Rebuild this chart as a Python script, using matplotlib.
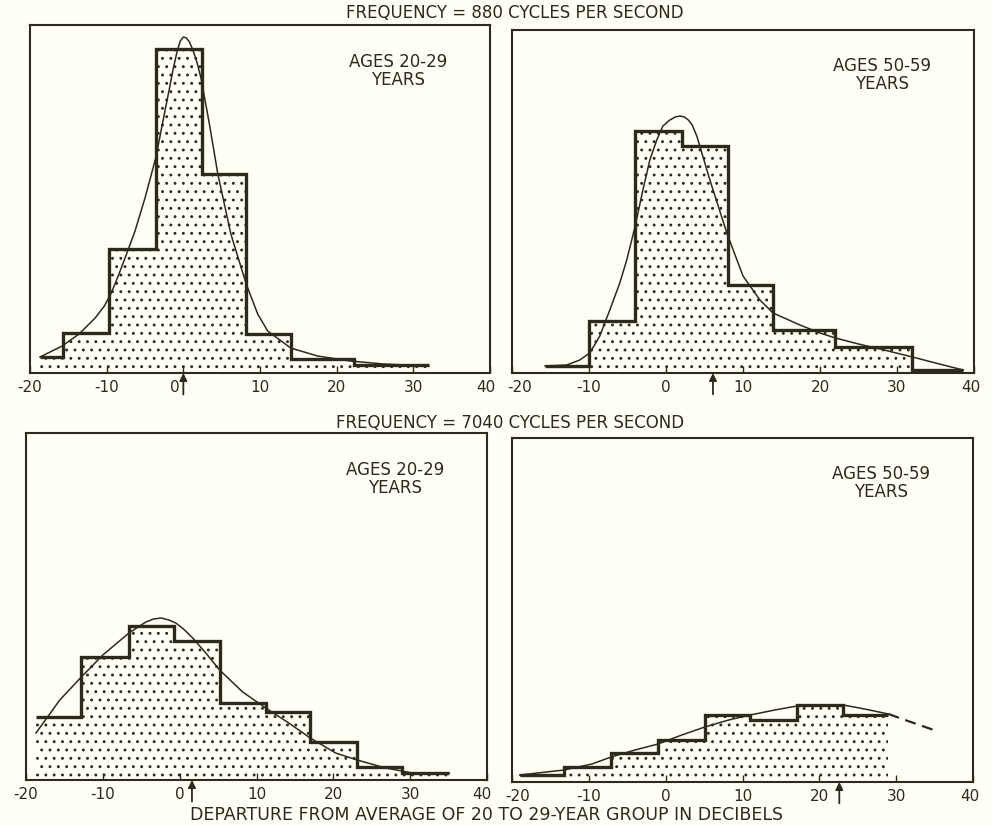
import numpy as np
import matplotlib.pyplot as plt
from matplotlib.transforms import ScaledTranslation

ink = '#2b2a1c'
paper = '#fffff6'
plt.rcParams['font.family'] = ['DejaVu Sans']
plt.rcParams['hatch.color'] = ink
plt.rcParams['hatch.linewidth'] = 0.9

# 880 c/s, ages 20-29
edges_880_young = [-18.7, -15.7, -9.7, -3.6, 2.5, 8.2, 14.0, 22.2, 32.0]
counts_880_young = [16, 40, 124, 324, 199, 39, 14, 8]
curve_880_young_x = [-18.7, -15.8, -13.6, -11.5, -10.3, -9.4, -8.5, -7.6, -6.3, -5.0, -3.6, -2.4,
                     -1.8, -1.3, -0.8, -0.4, 0.0, 0.4, 0.8, 1.3, 1.8, 2.3, 3.4, 4.5, 6.2, 8.2,
                     9.7, 11.0, 14.0, 17.5, 21.8, 26.1, 32.0]
curve_880_young_y = [16, 27, 39, 55, 67, 80, 97, 115, 142, 175, 215, 262,
                     285, 305, 322, 332, 336, 335, 331, 322, 310, 295, 249, 199, 139, 89,
                     59, 42, 25, 17, 12, 9, 7]
mean_880_young = 0.0

# 880 c/s, ages 50-59
edges_880_old = [-15.7, -10.0, -4.0, 2.1, 8.0, 13.9, 22.0, 32.0, 38.6]
counts_880_old = [7, 52, 242, 227, 88, 43, 26, 3]
curve_880_old_x = [-15.7, -12.9, -11.2, -9.9, -8.6, -7.3, -6.0, -5.1, -4.0, -3.0, -2.1, -1.2,
                   -0.4, 0.5, 1.2, 1.8, 2.4, 2.9, 3.4, 4.0, 5.7, 7.9, 10.0, 12.2, 13.9, 17.4,
                   20.0, 22.0, 25.0, 27.8, 32.0, 35.5, 38.6]
curve_880_old_y = [7, 8, 13, 20, 37, 63, 90, 113, 147, 183, 213, 233,
                   247, 253, 256, 257, 256, 253, 248, 237, 193, 140, 97, 73, 60, 48,
                   40, 35, 29, 24, 16, 9, 3]
mean_880_old = 6.1

# 7040 c/s, ages 20-29
edges_7040_young = [-18.7, -12.8, -6.6, -0.7, 5.2, 11.2, 17.0, 23.1, 29.0, 35.1]
counts_7040_young = [63, 123, 154, 139, 77, 68, 38, 13, 7]
curve_7040_young_x = [-18.7, -15.6, -12.8, -10.0, -6.6, -5.4, -4.4, -3.4, -2.4, -1.4, -0.5,
                      0.5, 1.7, 3.4, 5.2, 8.2, 11.2, 14.2, 17.0, 20.3, 23.1, 26.8, 30.3, 35.1]
curve_7040_young_y = [47, 80, 103, 125, 147, 153, 158, 161, 162, 160, 157,
                      151, 142, 127, 110, 88, 72, 57, 42, 27, 20, 12, 7, 7]
mean_7040_young = 1.6

# 7040 c/s, ages 50-59
edges_7040_old = [-19.0, -13.2, -7.1, -1.0, 5.1, 11.0, 17.1, 23.1, 29.0]
counts_7040_old = [7, 15, 29, 42, 67, 62, 77, 67]
curve_7040_old_x = [-19.0, -13.2, -9.6, -7.1, -4.0, -1.0, 2.1, 5.1, 8.2, 11.0, 14.2,
                    17.1, 19.8, 23.1, 25.9, 29.0]
curve_7040_old_y = [7, 12, 18, 25, 32, 38, 47, 55, 62, 67, 72, 76, 77, 77, 73, 68]
extrap_7040_old_x = [29.0, 31.9, 34.9]
extrap_7040_old_y = [68, 60, 52]
mean_7040_old = 22.6

tick_values = [-20, -10, 0, 10, 20, 30, 40]
tick_labels = ['-20', '-10', '0', '10', '20', '30', '40']

fig = plt.figure(figsize=(9.92, 8.26), dpi=100, facecolor=paper)
W, H = 992.0, 826.0


def make_ax(x0, y0, x1, y1):
    # pixel box -> figure fraction
    return fig.add_axes([x0 / W, 1 - y1 / H, (x1 - x0) / W, (y1 - y0) / H])


def nudge(lbl, dx_px):
    lbl.set_transform(lbl.get_transform() + ScaledTranslation(dx_px / 100.0, 0, fig.dpi_scale_trans))


def panel(ax, edges, counts, cx, cy, mean, label, top, shifts):
    ax.set_facecolor(paper)
    ax.stairs(counts, edges, baseline=0, fill=True, facecolor='none',
              edgecolor=ink, linewidth=0, hatch='..')
    ax.stairs(counts, edges, baseline=None, color=ink, linewidth=2.4)
    ax.plot(cx, cy, color=ink, linewidth=1.1)
    ax.set_xlim(-20, 40)
    ax.set_ylim(0, top)
    ax.set_yticks([])
    ax.set_xticks(tick_values)
    ax.set_xticklabels(tick_labels, fontsize=11, color=ink)
    ax.tick_params(axis='x', direction='in', length=5, width=1, color=ink, pad=5)
    for s in ax.spines.values():
        s.set_color(ink)
        s.set_linewidth(1.5)
    lbls = ax.get_xticklabels()
    for i, dx in shifts.items():
        nudge(lbls[i], dx)
    ax.annotate('', xy=(mean, 0.0), xycoords=('data', 'axes fraction'),
                xytext=(mean, -0.062), textcoords=('data', 'axes fraction'),
                arrowprops=dict(arrowstyle='-|>', color=ink, lw=1.3, mutation_scale=11,
                                shrinkA=0, shrinkB=0),
                annotation_clip=False)
    ax.text(0.80, 0.868, label, transform=ax.transAxes, ha='center', va='center',
            fontsize=12, color=ink, linespacing=1.0)


ax1 = make_ax(30, 25, 490, 373)
panel(ax1, edges_880_young, counts_880_young, curve_880_young_x, curve_880_young_y,
      mean_880_young, 'AGES 20-29\nYEARS', 348, {2: -9, 6: -4})

ax2 = make_ax(512, 30, 974, 373)
panel(ax2, edges_880_old, counts_880_old, curve_880_old_x, curve_880_old_y,
      mean_880_old, 'AGES 50-59\nYEARS', 343, {0: 8, 6: -3})

ax3 = make_ax(26, 433, 487, 780)
panel(ax3, edges_7040_young, counts_7040_young, curve_7040_young_x, curve_7040_young_y,
      mean_7040_young, 'AGES 20-29\nYEARS', 347, {6: -5})

ax4 = make_ax(512, 438, 973, 782)
panel(ax4, edges_7040_old, counts_7040_old, curve_7040_old_x, curve_7040_old_y,
      mean_7040_old, 'AGES 50-59\nYEARS', 344, {0: 6, 6: -3})
ax4.plot(extrap_7040_old_x, extrap_7040_old_y, color=ink, linewidth=1.6,
         linestyle=(0, (5, 3)))

fig.text(515 / W, 1 - 13 / H, 'FREQUENCY = 880 CYCLES PER SECOND', ha='center',
         va='center', fontsize=12, color=ink)
fig.text(510 / W, 1 - 423 / H, 'FREQUENCY = 7040 CYCLES PER SECOND', ha='center',
         va='center', fontsize=12, color=ink)
fig.text(487 / W, 1 - 815 / H, 'DEPARTURE FROM AVERAGE OF 20 TO 29-YEAR GROUP IN DECIBELS',
         ha='center', va='center', fontsize=12.5, color=ink)

fig.savefig('out.png', dpi=100, facecolor=paper)
